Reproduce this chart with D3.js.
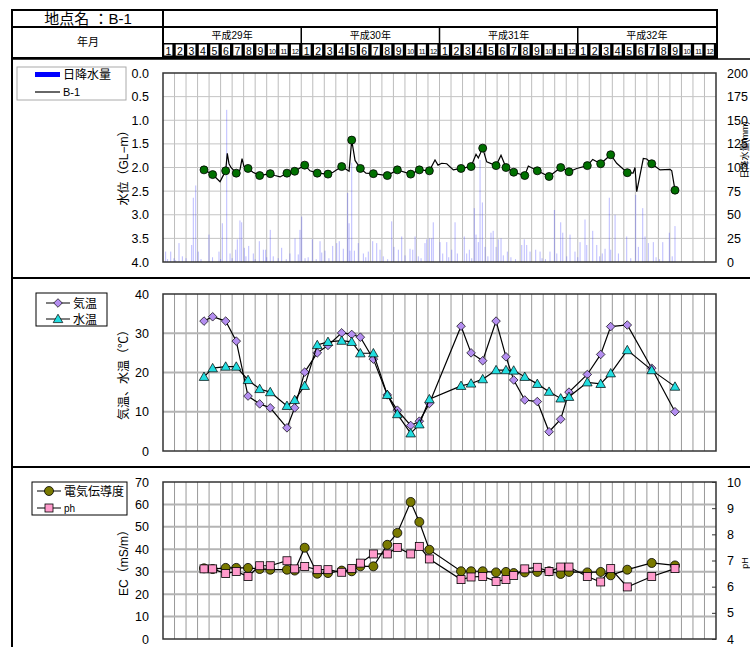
<!DOCTYPE html>
<html>
<head>
<meta charset="utf-8">
<script src="https://cdn.jsdelivr.net/npm/d3@7"></script>
<style>
  body { margin: 0; background: #fff; }
  svg { display: block; font-family: "Liberation Sans", "Noto Sans CJK JP", sans-serif; }
</style>
</head>
<body>
<div id="chart"></div>
<script>
// months counted from Jan of 平成29年 (0 = start of month 1)
let years = ["平成29年", "平成30年", "平成31年", "平成32年"];
let monthLabels = d3.range(48).map(i => String(i % 12 + 1));

// survey dates (fractional month index)
let sampleM = [3.56, 4.31, 5.44, 6.36, 7.38, 8.39, 9.31, 10.76, 11.43, 12.30, 13.39, 14.32, 15.51,
  16.38, 17.13, 18.26, 19.47, 20.34, 21.50, 22.25, 23.12, 25.87, 26.74, 27.75, 28.91, 29.77,
  30.44, 31.40, 32.49, 33.51, 34.52, 35.24, 36.83, 37.99, 38.86, 40.30, 42.42, 44.44];

let waterLevel = [2.05, 2.15, 2.07, 2.12, 2.02, 2.17, 2.13, 2.12, 2.08, 1.95, 2.12, 2.14, 1.98,
  1.42, 2.02, 2.13, 2.17, 2.05, 2.14, 2.05, 2.07, 2.02, 1.98, 1.59, 1.96, 2.00, 2.10, 2.17,
  2.07, 2.19, 2.00, 2.09, 1.96, 1.92, 1.73, 2.11, 1.92, 2.48];

let airTemp = [33.1, 34.2, 33.1, 28.0, 14.0, 12.0, 11.0, 5.9, 11.0, 20.1, 25.0, 26.9, 30.1, 29.7,
  29.0, 23.4, 14.3, 10.4, 6.5, 7.6, 12.1, 31.8, 25.0, 23.0, 33.1, 24.0, 18.1, 13.0, 12.6, 4.9,
  8.1, 15.0, 19.5, 24.6, 31.7, 32.1, 21.1, 10.0];

let waterTemp = [18.9, 21.1, 21.5, 21.5, 18.1, 15.8, 15.0, 11.5, 13.0, 16.6, 27.0, 27.8, 28.1,
  27.8, 24.9, 24.9, 14.3, 9.4, 4.5, 6.8, 13.2, 16.6, 17.2, 18.3, 20.6, 20.6, 20.5, 18.9, 17.1,
  15.1, 13.4, 13.8, 17.5, 17.1, 19.8, 25.7, 20.6, 16.4];

let ec = [31.5, 31.2, 31.7, 31.7, 31.7, 31.2, 30.9, 30.9, 30.5, 40.7, 29.1, 29.4, 30.5, 30.2,
  32.4, 32.4, 42.0, 47.3, 61.1, 52.2, 39.8, 30.2, 30.2, 30.2, 29.7, 29.9, 29.4, 29.7, 29.9,
  30.2, 29.0, 29.9, 29.7, 29.9, 28.4, 30.9, 33.9, 32.8];

let ph = [6.68, 6.68, 6.50, 6.58, 6.39, 6.80, 6.80, 6.99, 6.68, 6.77, 6.65, 6.65, 6.55, 6.69,
  6.90, 7.25, 7.25, 7.50, 7.25, 7.54, 7.06, 6.27, 6.37, 6.39, 6.20, 6.27, 6.43, 6.68, 6.74,
  6.58, 6.75, 6.75, 6.39, 6.18, 6.69, 5.99, 6.39, 6.69];

// continuous water level record (month index, GL-m)
let levelTraceM = [3.56, 4.31, 4.95, 5.12, 5.44, 5.58, 5.73, 5.90, 6.36, 6.68, 6.86, 7.03, 7.38,
  7.81, 8.39, 9.31, 9.72, 10.16, 10.76, 11.43, 12.30, 12.76, 13.39, 14.32, 14.76, 15.51, 16.15,
  16.38, 16.67, 17.13, 17.62, 18.26, 19.47, 20.34, 21.50, 22.25, 23.12, 23.61, 23.87, 24.19,
  24.63, 25.20, 25.87, 26.74, 27.17, 27.37, 27.75, 28.10, 28.91, 29.34, 29.77, 30.44, 31.40,
  31.71, 32.49, 33.51, 34.52, 35.24, 35.91, 36.83, 37.30, 37.99, 38.86, 39.38, 40.30, 40.80,
  40.97, 41.12, 41.69, 41.99, 42.42, 43.14, 44.01, 44.16, 44.44];
let levelTraceV = [2.05, 2.15, 2.30, 2.22, 2.07, 1.70, 1.92, 2.00, 2.12, 2.05, 1.81, 1.98, 2.02,
  2.10, 2.17, 2.13, 2.17, 2.20, 2.12, 2.08, 1.95, 2.07, 2.12, 2.14, 2.10, 1.98, 2.08,
  1.42, 1.85, 2.02, 2.12, 2.13, 2.17, 2.05, 2.14, 2.05, 2.07, 1.84, 1.95, 1.91,
  1.92, 2.05, 2.02, 1.98, 1.72, 1.80, 1.59, 1.88, 1.96, 1.74, 2.00, 2.10, 2.17,
  1.97, 2.07, 2.19, 2.00, 2.09, 2.02, 1.96, 1.83, 1.92, 1.73, 1.91, 2.11, 2.12,
  2.00, 2.51, 1.81, 1.82, 1.92, 2.05, 2.04, 2.07, 2.48];

// daily rainfall (month index, mm)
let rainM = [0.23, 0.4, 0.67, 0.95, 1.1, 1.39, 1.68, 2.0, 2.49, 2.63, 2.84, 3.06, 3.3, 3.99, 4.3,
  4.86, 5.0, 5.15, 5.53, 5.82, 6.0, 6.31, 6.45, 6.68, 6.83, 7.06, 7.2, 7.44, 7.84, 8.0, 8.36,
  8.71, 8.91, 9.0, 9.31, 9.57, 10.0, 10.30, 10.7, 11.02, 11.46, 11.74, 11.89, 12.04, 12.33,
  12.6, 12.96, 13.3, 13.63, 13.78, 14.06, 14.4, 14.73, 15.08, 15.30, 15.65, 16.03, 16.15,
  16.23, 16.38, 16.61, 16.95, 17.39, 17.6, 17.82, 18.20, 18.55, 18.84, 19.12, 19.5, 19.85,
  20.05, 20.43, 20.72, 21.01, 21.44, 21.68, 21.88, 22.16, 22.4, 22.74, 22.89, 23.12, 23.32,
  23.46, 24.05, 24.28, 24.63, 24.8, 25.06, 25.35, 25.55, 26.15, 26.36, 26.59, 26.8, 27.02,
  27.17, 27.37, 27.52, 27.72, 27.95, 28.2, 28.47, 28.66, 28.91, 29.11, 29.34, 29.54, 29.89,
  30.2, 30.6, 31.14, 31.36, 31.57, 31.86, 32.35, 32.73, 32.9, 33.2, 33.59, 33.97, 34.18,
  34.52, 34.70, 35.04, 35.33, 35.76, 36.0, 36.20, 36.63, 36.78, 37.30, 37.65, 37.9, 38.13,
  38.37, 38.74, 38.86, 39.24, 39.53, 40.25, 40.6, 41.03, 41.26, 41.64, 41.84, 42.13, 42.56,
  42.8, 43.1, 43.38, 43.95, 44.2, 44.44];
let rainMm = [11, 3, 11, 4, 2, 20, 6, 4, 18, 68, 81, 11, 3, 29, 5,
  11, 3, 41, 161, 9, 4, 13, 24, 44, 42, 15, 6, 17, 9, 3, 22,
  13, 13, 5, 34, 6, 4, 15, 3, 9, 25, 8, 34, 48, 4,
  5, 24, 3, 22, 10, 12, 4, 17, 20, 22, 14, 73, 41,
  12, 105, 12, 20, 9, 5, 11, 22, 20, 13, 6, 3, 43,
  16, 13, 27, 7, 14, 13, 27, 6, 4, 20, 24, 25, 25,
  42, 21, 9, 21, 5, 13, 42, 9, 27, 9, 13, 4, 57,
  29, 21, 108, 63, 16, 6, 31, 33, 16, 24, 25, 7, 11,
  5, 3, 18, 24, 18, 11, 13, 11, 4, 3, 11, 55, 9,
  42, 31, 6, 29, 11, 5, 21, 45, 18, 33, 18, 6, 9,
  14, 68, 13, 50, 9, 27, 4, 71, 16, 57, 27, 20, 21,
  5, 3, 21, 31, 6, 38];

const W = 750, H = 647;
let svg = d3.select("#chart").append("svg").attr("width", W).attr("height", H);

let x = d3.scaleLinear().domain([0, 48]).range([163, 716]);
let ink = "#000";

// ---------- header table ----------
let head = svg.append("g");
head.append("rect").attr("x", 12).attr("y", 10).attr("width", 705).attr("height", 48)
  .attr("fill", "none").attr("stroke", ink).attr("stroke-width", 2);
head.append("line").attr("x1", 12).attr("x2", 717).attr("y1", 27).attr("y2", 27)
  .attr("stroke", ink).attr("stroke-width", 2);
head.append("line").attr("x1", 163).attr("x2", 163).attr("y1", 10).attr("y2", 58)
  .attr("stroke", ink).attr("stroke-width", 2);
head.append("text").attr("x", 88).attr("y", 24).attr("text-anchor", "middle")
  .style("font-size", "15px").text("地点名 ：B-1");
head.append("text").attr("x", 88).attr("y", 46).attr("text-anchor", "middle")
  .style("font-size", "11px").text("年月");

head.selectAll(".yr").data(years).enter().append("text")
  .attr("x", (d, i) => x(i * 12 + 6)).attr("y", 39).attr("text-anchor", "middle")
  .style("font-size", "10px").text(d => d);
head.selectAll(".ysep").data([12, 24, 36]).enter().append("line")
  .attr("x1", d => x(d)).attr("x2", d => x(d)).attr("y1", 27).attr("y2", 43)
  .attr("stroke", ink).attr("stroke-width", 1.5);

head.append("rect").attr("x", 163).attr("y", 43).attr("width", 554).attr("height", 14).attr("fill", ink);
let mcell = head.selectAll(".mc").data(monthLabels).enter().append("g");
mcell.append("rect").attr("x", (d, i) => x(i) + 1.2).attr("y", 44.5).attr("width", 8.2).attr("height", 11)
  .attr("fill", "#fff");
mcell.append("text").attr("x", (d, i) => x(i) + 5.3).attr("y", (d) => d.length > 1 ? 53.5 : 54.5)
  .attr("text-anchor", "middle")
  .style("font-size", d => d.length > 1 ? "7px" : "10.5px")
  .style("letter-spacing", d => d.length > 1 ? "-0.6px" : "0px").text(d => d);

// ---------- frame ----------
svg.append("line").attr("x1", 12).attr("x2", 12).attr("y1", 10).attr("y2", H).attr("stroke", ink).attr("stroke-width", 2);
[59, 278, 467].forEach(yy => {
  svg.append("line").attr("x1", 12).attr("x2", W).attr("y1", yy).attr("y2", yy)
    .attr("stroke", ink).attr("stroke-width", yy == 59 ? 1.5 : 2);
});

// helpers
function grid(g, y, hvals, vColor, hColor, hWidth) {
  g.selectAll(".vg").data(d3.range(1, 48)).enter().append("line")
    .attr("x1", d => x(d)).attr("x2", d => x(d))
    .attr("y1", y.range()[0]).attr("y2", y.range()[1])
    .attr("stroke", vColor).attr("stroke-width", 1);
  g.selectAll(".hg").data(hvals).enter().append("line")
    .attr("x1", 163).attr("x2", 716).attr("y1", d => y(d)).attr("y2", d => y(d))
    .attr("stroke", hColor).attr("stroke-width", hWidth);
}
function frame(g, y0, y1) {
  g.append("rect").attr("x", 163).attr("y", y0).attr("width", 553).attr("height", y1 - y0)
    .attr("fill", "none").attr("stroke", "#333").attr("stroke-width", 1.5);
}
function leftAxis(g, y, vals, fmt) {
  let a = g.append("g").attr("transform", "translate(163,0)")
    .call(d3.axisLeft(y).tickValues(vals).tickFormat(fmt).tickSize(0).tickPadding(14));
  a.select(".domain").remove();
  a.selectAll("text").style("font-size", "12.5px").style("font-family", "Liberation Sans, sans-serif").attr("fill", ink);
}
function rightAxis(g, y, vals, inner) {
  let a = g.append("g").attr("transform", "translate(716,0)")
    .call(d3.axisRight(y).tickValues(vals).tickFormat(d3.format("d")).tickSize(inner ? -4 : 0).tickPadding(11));
  a.select(".domain").remove();
  a.selectAll("line").attr("stroke", "#333");
  a.selectAll("text").style("font-size", "12.5px").style("font-family", "Liberation Sans, sans-serif").attr("fill", ink);
}
function yTitle(g, cx, cy, txt) {
  g.append("text").attr("transform", `translate(${cx},${cy}) rotate(-90)`)
    .attr("text-anchor", "middle").style("font-size", "12px").attr("fill", ink).text(txt);
}
let diamond = "M0,-4.3L4.3,0L0,4.3L-4.3,0Z";
let triangle = "M0,-4.8L4.8,3.6L-4.8,3.6Z";

// ---------- panel 1: water level + rainfall ----------
let p1 = svg.append("g");
let yLv = d3.scaleLinear().domain([0, 4]).range([73, 262]);
let yRain = d3.scaleLinear().domain([0, 200]).range([262, 73]);
grid(p1, yLv, d3.range(0.5, 4, 0.5), "#bdbdbd", "#c4c4c4", 1);

p1.selectAll(".rain").data(rainM).enter().append("line")
  .attr("x1", d => x(d)).attr("x2", d => x(d))
  .attr("y1", yRain(0)).attr("y2", (d, i) => yRain(rainMm[i]))
  .attr("stroke", "rgba(60,60,255,0.35)").attr("stroke-width", 1);

p1.append("path").datum(levelTraceM)
  .attr("d", d3.line().x(d => x(d)).y((d, i) => yLv(levelTraceV[i])))
  .attr("fill", "none").attr("stroke", ink).attr("stroke-width", 1.2);
p1.selectAll(".lv").data(sampleM).enter().append("circle")
  .attr("cx", d => x(d)).attr("cy", (d, i) => yLv(waterLevel[i])).attr("r", 4)
  .attr("fill", "#007000").attr("stroke", ink).attr("stroke-width", 0.8);
frame(p1, 73, 262);
leftAxis(p1, yLv, d3.range(0, 4.01, 0.5), d3.format(".1f"));
rightAxis(p1, yRain, d3.range(0, 201, 25), false);
yTitle(p1, 128, 165, "水位（GL−m）");
p1.append("text").attr("transform", "translate(748,150) rotate(-90)")
  .attr("text-anchor", "middle").style("font-size", "9px").text("日降水量(mm)");

let lg1 = p1.append("g");
lg1.append("rect").attr("x", 17).attr("y", 67).attr("width", 109).attr("height", 33)
  .attr("fill", "#fff").attr("stroke", "#aaa");
lg1.append("rect").attr("x", 35).attr("y", 72).attr("width", 25).attr("height", 5).attr("fill", "#0000ff");
lg1.append("text").attr("x", 63).attr("y", 79).style("font-size", "12px").text("日降水量");
lg1.append("line").attr("x1", 35).attr("x2", 60).attr("y1", 92).attr("y2", 92).attr("stroke", ink).attr("stroke-width", 1.2);
lg1.append("text").attr("x", 63).attr("y", 96).style("font-size", "11px").text("B-1");

// ---------- panel 2: temperatures ----------
let p2 = svg.append("g");
let yT = d3.scaleLinear().domain([0, 40]).range([451, 294]);
grid(p2, yT, [10, 20, 30], "#999", "#b4b4b4", 2);
p2.append("path").datum(sampleM)
  .attr("d", d3.line().x(d => x(d)).y((d, i) => yT(airTemp[i])))
  .attr("fill", "none").attr("stroke", ink).attr("stroke-width", 1.2);
p2.selectAll(".at").data(sampleM).enter().append("path")
  .attr("transform", (d, i) => `translate(${x(d)},${yT(airTemp[i])})`).attr("d", diamond)
  .attr("fill", "#b48ef0").attr("stroke", ink).attr("stroke-width", 0.7);
p2.append("path").datum(sampleM)
  .attr("d", d3.line().x(d => x(d)).y((d, i) => yT(waterTemp[i])))
  .attr("fill", "none").attr("stroke", ink).attr("stroke-width", 1.2);
p2.selectAll(".wt").data(sampleM).enter().append("path")
  .attr("transform", (d, i) => `translate(${x(d)},${yT(waterTemp[i])})`).attr("d", triangle)
  .attr("fill", "#22dde0").attr("stroke", ink).attr("stroke-width", 0.7);
frame(p2, 294, 451);
leftAxis(p2, yT, [0, 10, 20, 30, 40], d3.format("d"));
yTitle(p2, 128, 372, "気温、水温（℃）");

let lg2 = p2.append("g");
lg2.append("rect").attr("x", 36).attr("y", 293).attr("width", 71).attr("height", 33)
  .attr("fill", "#fff").attr("stroke", ink);
[[303, diamond, "#b48ef0", "気温"], [319, triangle, "#22dde0", "水温"]].forEach(r => {
  lg2.append("line").attr("x1", 46).attr("x2", 70).attr("y1", r[0]).attr("y2", r[0]).attr("stroke", ink);
  lg2.append("path").attr("transform", `translate(58,${r[0]})`).attr("d", r[1])
    .attr("fill", r[2]).attr("stroke", ink).attr("stroke-width", 0.7);
  lg2.append("text").attr("x", 73).attr("y", r[0] + 4.5).style("font-size", "12px").text(r[3]);
});

// ---------- panel 3: EC / pH ----------
let p3 = svg.append("g");
let yEc = d3.scaleLinear().domain([0, 70]).range([639, 482]);
let yPh = d3.scaleLinear().domain([4, 10]).range([639, 482]);
grid(p3, yEc, d3.range(10, 70, 10), "#999", "#b4b4b4", 2);
p3.append("path").datum(sampleM)
  .attr("d", d3.line().x(d => x(d)).y((d, i) => yEc(ec[i])))
  .attr("fill", "none").attr("stroke", ink).attr("stroke-width", 1.2);
p3.selectAll(".ec").data(sampleM).enter().append("circle")
  .attr("cx", d => x(d)).attr("cy", (d, i) => yEc(ec[i])).attr("r", 4.5)
  .attr("fill", "#7a7a00").attr("stroke", ink).attr("stroke-width", 0.8);
p3.append("path").datum(sampleM)
  .attr("d", d3.line().x(d => x(d)).y((d, i) => yPh(ph[i])))
  .attr("fill", "none").attr("stroke", ink).attr("stroke-width", 1.2);
p3.selectAll(".ph").data(sampleM).enter().append("rect")
  .attr("x", d => x(d) - 4).attr("y", (d, i) => yPh(ph[i]) - 4).attr("width", 8).attr("height", 8)
  .attr("fill", "#ff9bcc").attr("stroke", ink).attr("stroke-width", 0.8);
frame(p3, 482, 639);
leftAxis(p3, yEc, d3.range(0, 71, 10), d3.format("d"));
rightAxis(p3, yPh, d3.range(4, 11, 1), true);
yTitle(p3, 128, 560, "EC（mS/m）");
p3.append("text").attr("transform", "translate(748,563) rotate(-90)")
  .attr("text-anchor", "middle").style("font-size", "9px").text("pH");

let lg3 = p3.append("g");
lg3.append("rect").attr("x", 32).attr("y", 482).attr("width", 95).attr("height", 33)
  .attr("fill", "#fff").attr("stroke", ink);
lg3.append("line").attr("x1", 37).attr("x2", 61).attr("y1", 491).attr("y2", 491).attr("stroke", ink);
lg3.append("circle").attr("cx", 49).attr("cy", 491).attr("r", 4.5)
  .attr("fill", "#7a7a00").attr("stroke", ink).attr("stroke-width", 0.8);
lg3.append("text").attr("x", 64).attr("y", 495.5).style("font-size", "12px").text("電気伝導度");
lg3.append("line").attr("x1", 37).attr("x2", 61).attr("y1", 508).attr("y2", 508).attr("stroke", ink);
lg3.append("rect").attr("x", 45).attr("y", 504).attr("width", 8).attr("height", 8)
  .attr("fill", "#ff9bcc").attr("stroke", ink).attr("stroke-width", 0.8);
lg3.append("text").attr("x", 64).attr("y", 512).style("font-size", "10px").text("ph");
</script>
</body>
</html>
